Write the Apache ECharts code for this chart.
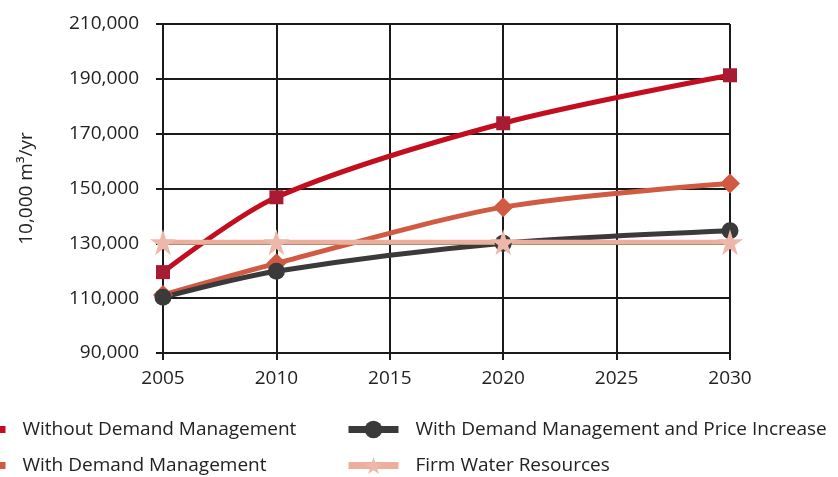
<!DOCTYPE html>
<html>
<head>
<meta charset="utf-8">
<script src="https://cdn.jsdelivr.net/npm/echarts@6/dist/echarts.min.js"></script>
<style>
  html, body { margin: 0; padding: 0; background: #fff; }
  #chart { width: 838px; height: 477px; }
</style>
</head>
<body>
<div id="chart"></div>
<script>
const years = [2005, 2010, 2020, 2030];
const withoutDM = [119500, 146800, 173800, 191300];
const withDM = [111200, 122700, 143200, 151800];
const withDMPrice = [110300, 119800, 130000, 134600];
const firmWater = [130400, 130400, 130400, 130400];

const font = '"Open Sans", "Noto Sans", sans-serif';
const star = 'path://M50,0 L61,35 L98,35 L68,57 L79,92 L50,70 L21,92 L32,57 L2,35 L39,35 Z';

const chart = echarts.init(document.getElementById('chart'));

const makeSeries = (name, values, color, markerColor, symbol, size) => ({
  name,
  type: 'line',
  smooth: 0.3,
  symbol,
  symbolSize: size,
  data: years.map((y, i) => [y, values[i]]),
  lineStyle: { width: 5, color },
  itemStyle: { color: markerColor, borderColor: markerColor, borderWidth: 0 }
});

const legendBase = {
  orient: 'vertical',
  top: 420,
  height: 70,
  padding: 0,
  itemWidth: 50,
  itemHeight: 22,
  itemGap: 17,
  lineStyle: { width: 7 },
  textStyle: { color: '#222', fontSize: 19, fontFamily: font, padding: [0, 0, 0, 12] }
};

const option = {
  animation: false,
  grid: { left: 163, right: 108, top: 24, bottom: 124 },
  xAxis: {
    type: 'value',
    min: 2005,
    max: 2030,
    interval: 5,
    axisLine: { lineStyle: { color: '#1a1a1a', width: 2 } },
    axisTick: { show: true, length: 7, lineStyle: { color: '#1a1a1a', width: 2 } },
    splitLine: { show: true, lineStyle: { color: '#1a1a1a', width: 2 } },
    axisLabel: { color: '#222', fontSize: 19, fontFamily: font, margin: 16, formatter: v => String(v) }
  },
  yAxis: {
    type: 'value',
    min: 90000,
    max: 210000,
    interval: 20000,
    name: '10,000 m³/yr',
    nameLocation: 'middle',
    nameGap: 127,
    nameTextStyle: { color: '#222', fontSize: 19, fontFamily: font },
    axisLine: { show: true, lineStyle: { color: '#1a1a1a', width: 2 } },
    axisTick: { show: true, length: 7, lineStyle: { color: '#1a1a1a', width: 2 } },
    splitLine: { show: true, lineStyle: { color: '#1a1a1a', width: 2 } },
    axisLabel: { color: '#222', fontSize: 19, fontFamily: font, margin: 24 }
  },
  legend: [
    Object.assign({}, legendBase, {
      left: -48,
      data: ['Without Demand Management', 'With Demand Management']
    }),
    Object.assign({}, legendBase, {
      left: 345,
      data: ['With Demand Management and Price Increase', 'Firm Water Resources']
    })
  ],
  series: [
    makeSeries('Without Demand Management', withoutDM, '#C20E1F', '#A81B33', 'rect', 14),
    makeSeries('With Demand Management', withDM, '#D05B42', '#D05B42', 'diamond', 20),
    makeSeries('With Demand Management and Price Increase', withDMPrice, '#3A3A3A', '#3A3A3A', 'circle', 17),
    makeSeries('Firm Water Resources', firmWater, '#EBAF9C', '#EDB8AA', star, 26)
  ]
};

chart.setOption(option);
</script>
</body>
</html>
